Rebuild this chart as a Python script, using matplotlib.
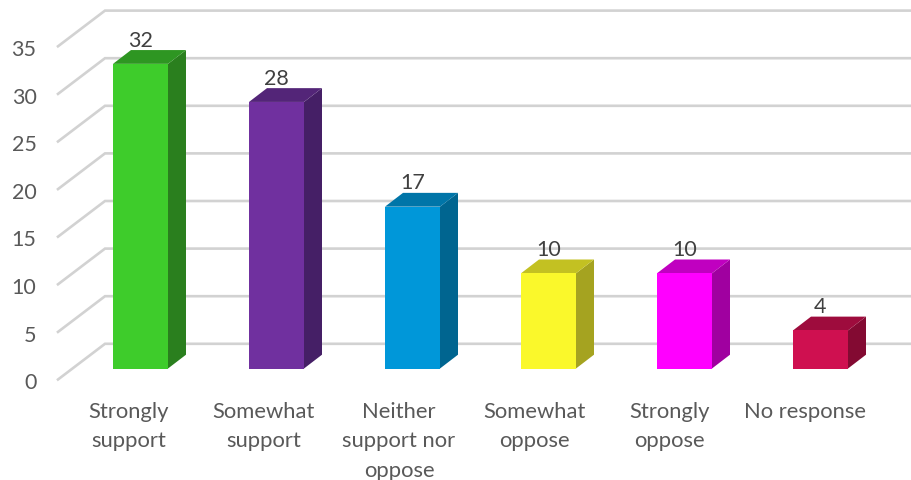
import matplotlib
matplotlib.use('Agg')
import matplotlib.pyplot as plt
from matplotlib.patches import Polygon

plt.rcParams['font.family'] = ['Lato', 'DejaVu Sans']

categories = ['Strongly\nsupport', 'Somewhat\nsupport', 'Neither\nsupport nor\noppose',
              'Somewhat\noppose', 'Strongly\noppose', 'No response']
values = [32, 28, 17, 10, 10, 4]
y_ticks = [0, 5, 10, 15, 20, 25, 30, 35]

front_colors = ['#3ECC2B', '#70309F', '#0097D9', '#FAF82B', '#FF00FF', '#CF1050']
top_colors = ['#2E9622', '#532578', '#0075A8', '#C3C122', '#C000C0', '#9E0C3D']
side_colors = ['#2A7F1E', '#451F66', '#006590', '#A5A320', '#A000A0', '#830A32']

W, H = 911, 481
x_scale = 136.0
y_scale = 9.52
x0_px = 140.5
y0_px = 369.5

fig = plt.figure(figsize=(W / 100, H / 100), dpi=100)
ax = fig.add_axes([0, 0, 1, 1])
ax.set_xlim(-x0_px / x_scale, (W - x0_px) / x_scale)
ax.set_ylim(-(H - y0_px) / y_scale, y0_px / y_scale)
ax.axis('off')

bar_w = 55 / x_scale
dx = 18 / x_scale
dy = 13.8 / y_scale

# 3d box floor/wall
wall_x0 = (105 - x0_px) / x_scale
front_x0 = (58 - x0_px) / x_scale
wall_y = (y0_px - 344.8) / y_scale
front_y = (y0_px - 380.5) / y_scale
wall_x1 = (W - x0_px) / x_scale

for t in y_ticks:
    ax.plot([front_x0, wall_x0, wall_x1], [t + front_y, t + wall_y, t + wall_y],
            color='#D2D2D2', lw=1.9, solid_joinstyle='miter', zorder=1)
    ax.text((36.5 - x0_px) / x_scale, t + front_y - 0.28, str(t), ha='right', va='center',
            fontsize=15.5, color='#595959')

for i, v in enumerate(values):
    l = i - bar_w / 2
    r = i + bar_w / 2
    ax.add_patch(Polygon([(r, 0), (r + dx, dy), (r + dx, v + dy), (r, v)],
                         fc=side_colors[i], ec='none', zorder=3))
    ax.add_patch(Polygon([(l, v), (r, v), (r + dx, v + dy), (l + dx, v + dy)],
                         fc=top_colors[i], ec='none', zorder=3))
    ax.bar(i, v, width=bar_w, color=front_colors[i], zorder=4)
    ax.text(i, v + dy + 0.05, str(v), ha='center', va='bottom',
            fontsize=15.5, color='#404040', zorder=5)
    # label spacing is a touch tighter than the bars
    ax.text(i * 135.4 / x_scale - 0.09, -(401.5 - y0_px) / y_scale, categories[i], ha='center', va='top',
            fontsize=15.8, color='#595959', linespacing=1.6)

fig.savefig('out.png', dpi=100)
